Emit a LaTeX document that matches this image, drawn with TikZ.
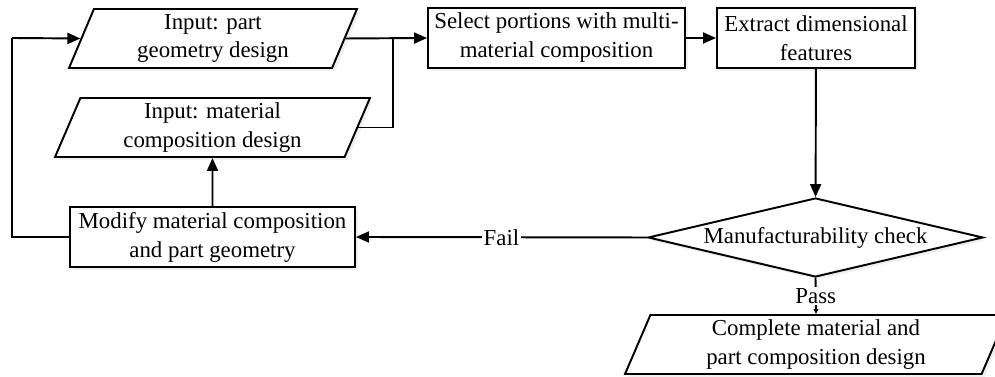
\documentclass[tikz,border=0pt]{standalone}
\usepackage{fontspec}
\setmainfont{Liberation Serif}
\usepackage{tikz}
\usetikzlibrary{shapes,arrows.meta,positioning,shadows}

\begin{document}
\begin{tikzpicture}[
    x=0.02cm, y=-0.02cm,
    font=\fontsize{13}{16.5}\selectfont,
    box/.style={rectangle, draw, line width=1.1pt, align=center, fill=white, inner sep=0pt,
        drop shadow={opacity=0.12, shadow xshift=0.06cm, shadow yshift=-0.06cm}},
    io/.style={trapezium, trapezium left angle=63, trapezium right angle=117, trapezium stretches body,
        draw, line width=1.1pt, align=center, fill=white, inner sep=0pt, minimum height=1.18cm,
        drop shadow={opacity=0.12, shadow xshift=0.06cm, shadow yshift=-0.06cm}},
    decision/.style={diamond, draw, line width=1.1pt, align=center, fill=white, inner sep=0pt,
        minimum width=6.7cm, minimum height=1.58cm, aspect=4.24,
        drop shadow={opacity=0.12, shadow xshift=0.06cm, shadow yshift=-0.06cm}},
    arrow/.style={-{Triangle[length=0.26cm, width=0.22cm]}, line width=1.1pt},
    line/.style={line width=1.1pt}
]
    \useasboundingbox (0,0) rectangle (995,377);

    % Inputs
    \node[io, minimum width=5.76cm] (partin) at (213,38.5) {Input: part\\geometry design};
    \node[io, minimum width=6.3cm] (matin) at (212.5,127.5) {Input: material\\composition design};

    % Process boxes
    \node[box, minimum width=5.14cm, minimum height=1.2cm] (select) at (556.5,38) {Select portions with multi-\\material composition};
    \node[box, minimum width=3.96cm, minimum height=1.2cm] (extract) at (816,38) {Extract dimensional\\features};
    \node[decision] (check) at (815.5,237.5) {Manufacturability check};
    \node[box, minimum width=5.7cm, minimum height=1.2cm] (modify) at (212.5,237) {Modify material composition\\and part geometry};

    % Output
    \node[io, minimum width=7.64cm] (complete) at (816,344.5) {Complete material and\\part composition design};

    % Junction points
    \coordinate (join) at (393,38);
    \coordinate (back) at (12,38);

    % Arrows
    \draw[arrow] (partin.east) -- (select.west);
    \draw[line] (matin.east) -| (join);
    \draw[arrow] (select) -- (extract);
    \draw[arrow] (extract) -- (check);
    \draw[arrow] (check.west) -- node[fill=white, inner sep=1pt] (fail) {Fail} (modify.east);
    \draw[-{Triangle[length=0.1cm, width=0.09cm]}, line width=1.1pt] (check.south) -- node[fill=white, inner sep=1pt] (pass) {Pass} (complete.north);
    \draw[arrow] (modify) -- (matin);
    \draw[line] (modify.west) -| (back);
    \draw[arrow] (back) -- (partin.west);
\end{tikzpicture}
\end{document}
